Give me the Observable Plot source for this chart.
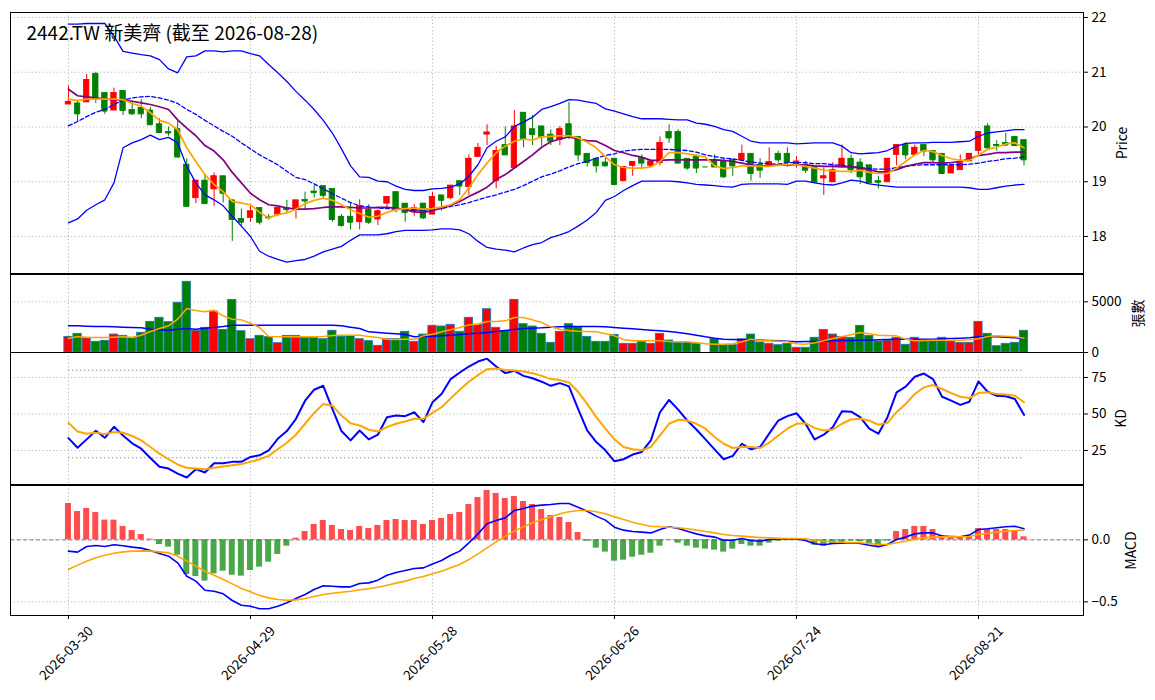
<!DOCTYPE html>
<html><head><meta charset="utf-8">
<script src="https://cdn.jsdelivr.net/npm/d3@7"></script>
<script src="https://cdn.jsdelivr.net/npm/@observablehq/plot@0.6"></script>
<style>
body{margin:0;background:#fff;}
#chart{position:relative;width:1155px;height:700px;background:#fff;}
#chart svg{position:absolute;left:0;overflow:visible;}
</style></head><body><div id="chart"></div>
<script>
const title = "2442.TW 新美齊 (截至 2026-08-28)";
const tickIndex = [0, 20, 40, 60, 80, 100];
const tickLabels = ["2026-03-30", "2026-04-29", "2026-05-28", "2026-06-26", "2026-07-24", "2026-08-21"];

const open = [20.41,20.43,20.45,20.97,20.62,20.30,20.66,20.31,20.35,20.30,20.05,19.91,19.96,19.31,18.70,19.02,18.86,19.10,18.66,18.32,18.34,18.52,18.35,18.40,18.52,18.49,18.67,18.82,18.92,18.87,18.36,18.36,18.26,18.49,18.31,18.60,18.81,18.60,18.44,18.60,18.40,18.75,18.70,19.01,18.90,19.45,19.86,19.01,19.67,19.25,20.26,19.96,20.01,19.86,19.76,20.05,19.82,19.51,19.42,19.35,19.42,19.01,19.29,19.43,19.29,19.34,19.91,19.91,19.42,19.46,19.27,19.40,19.37,19.40,19.39,19.51,19.31,19.27,19.51,19.51,19.31,19.31,19.27,19.06,18.99,19.27,19.42,19.35,19.30,19.01,18.99,19.49,19.67,19.49,19.67,19.56,19.51,19.15,19.21,19.37,19.56,20.01,19.67,19.71,19.82,19.76];
const high = [20.75,20.49,20.96,21.00,20.62,20.71,20.66,20.47,20.50,20.36,20.15,20.00,20.10,19.42,19.02,19.14,19.16,19.10,18.66,18.50,18.55,18.52,18.40,18.52,18.66,18.66,18.81,18.93,18.93,18.87,18.40,18.60,18.67,18.58,18.49,18.72,18.81,18.60,18.58,18.60,18.81,18.75,18.93,19.01,19.49,19.70,20.04,19.65,20.00,20.30,20.26,20.21,20.01,19.95,20.01,20.45,19.82,19.51,19.42,19.43,19.42,19.27,19.36,19.49,19.40,19.82,20.04,19.95,19.42,19.49,19.27,19.49,19.40,19.40,19.67,19.51,19.42,19.62,19.56,19.62,19.46,19.37,19.27,19.25,19.35,19.67,19.49,19.42,19.30,19.10,19.42,19.67,19.71,19.67,19.67,19.56,19.51,19.31,19.49,19.51,19.91,20.06,19.75,19.88,19.82,19.76];
const low = [20.41,20.10,20.44,20.43,20.23,20.30,20.21,20.21,20.15,20.03,19.89,19.83,19.45,18.55,18.60,18.60,18.55,18.61,17.91,18.19,18.26,18.21,18.30,18.37,18.43,18.32,18.49,18.70,18.70,18.26,18.17,18.12,18.12,18.22,18.20,18.52,18.43,18.26,18.37,18.31,18.40,18.46,18.67,18.75,18.75,19.45,19.66,18.87,19.49,19.25,19.62,19.66,19.65,19.66,19.66,19.77,19.37,19.27,19.16,19.27,18.95,19.01,19.10,19.22,19.28,19.29,19.70,19.34,19.21,19.15,19.27,19.27,19.06,19.10,19.39,19.01,19.06,19.27,19.34,19.27,19.25,19.15,18.98,18.75,18.99,19.27,19.15,18.95,18.98,18.87,18.99,19.29,19.40,19.49,19.46,19.34,19.15,19.15,19.21,19.37,19.49,19.57,19.56,19.65,19.65,19.29];
const close = [20.46,20.24,20.86,20.51,20.29,20.62,20.30,20.24,20.24,20.04,19.90,19.89,19.45,18.55,19.02,18.60,19.10,18.79,18.31,18.26,18.46,18.26,18.34,18.52,18.49,18.66,18.65,18.80,18.75,18.31,18.20,18.26,18.55,18.26,18.46,18.72,18.49,18.44,18.52,18.34,18.72,18.66,18.93,18.92,19.42,19.62,19.90,19.56,19.49,20.01,19.77,19.86,19.82,19.74,19.96,19.84,19.49,19.35,19.29,19.29,18.95,19.27,19.36,19.34,19.37,19.71,19.80,19.34,19.25,19.25,19.27,19.27,19.09,19.29,19.51,19.15,19.21,19.36,19.40,19.35,19.37,19.21,18.99,19.10,19.21,19.42,19.22,19.09,18.98,18.99,19.42,19.67,19.49,19.62,19.56,19.40,19.15,19.29,19.34,19.51,19.91,19.62,19.66,19.67,19.66,19.40];
const ma5 = [20.51,20.48,20.51,20.51,20.51,20.51,20.50,20.43,20.38,20.26,20.12,20.07,19.95,19.62,19.37,19.13,18.95,18.82,18.64,18.61,18.58,18.44,18.34,18.40,18.43,18.50,18.60,18.66,18.70,18.66,18.58,18.49,18.42,18.35,18.37,18.44,18.49,18.51,18.52,18.50,18.51,18.54,18.58,18.67,18.89,19.13,19.34,19.53,19.65,19.74,19.78,19.76,19.82,19.83,19.84,19.84,19.80,19.72,19.62,19.46,19.31,19.26,19.25,19.25,19.27,19.37,19.53,19.53,19.51,19.48,19.45,19.29,19.24,19.26,19.29,19.29,19.28,19.28,19.30,19.31,19.31,19.28,19.25,19.21,19.20,19.19,19.19,19.21,19.17,19.15,19.15,19.25,19.37,19.49,19.57,19.55,19.48,19.42,19.39,19.39,19.49,19.59,19.63,19.69,19.71,19.62];
const ma10 = [20.69,20.57,20.55,20.53,20.51,20.50,20.49,20.47,20.44,20.41,20.37,20.32,20.13,19.98,19.84,19.66,19.56,19.40,19.17,18.98,18.79,18.67,18.58,18.56,18.52,18.50,18.50,18.51,18.53,18.54,18.54,18.53,18.52,18.52,18.53,18.53,18.52,18.49,18.45,18.44,18.47,18.52,18.57,18.64,18.73,18.81,18.90,19.04,19.13,19.25,19.37,19.49,19.63,19.73,19.78,19.82,19.78,19.75,19.74,19.66,19.57,19.53,19.48,19.45,19.39,19.39,19.40,19.40,19.40,19.40,19.40,19.40,19.39,19.37,19.34,19.31,19.29,19.29,19.31,19.30,19.31,19.31,19.29,19.28,19.28,19.27,19.27,19.25,19.22,19.18,19.18,19.22,19.28,19.32,19.35,19.35,19.34,19.35,19.37,19.42,19.48,19.50,19.53,19.53,19.54,19.54];
const ma20 = [20.02,20.10,20.19,20.27,20.32,20.41,20.49,20.53,20.55,20.56,20.53,20.49,20.43,20.32,20.23,20.12,20.02,19.92,19.83,19.71,19.60,19.49,19.40,19.31,19.19,19.08,19.04,18.96,18.87,18.78,18.70,18.62,18.56,18.54,18.52,18.51,18.50,18.49,18.48,18.48,18.49,18.51,18.55,18.58,18.62,18.67,18.72,18.76,18.81,18.86,18.93,19.01,19.09,19.14,19.20,19.27,19.33,19.37,19.43,19.48,19.51,19.56,19.58,19.59,19.59,19.59,19.59,19.58,19.57,19.54,19.49,19.46,19.43,19.42,19.39,19.36,19.34,19.33,19.32,19.35,19.35,19.35,19.33,19.33,19.31,19.30,19.28,19.26,19.24,19.23,19.23,19.26,19.28,19.30,19.31,19.31,19.31,19.31,19.31,19.32,19.34,19.37,19.39,19.42,19.43,19.45];
const bbUpper = [21.88,21.88,21.89,21.89,21.89,21.66,21.38,21.35,21.32,21.30,21.23,21.06,20.99,21.28,21.30,21.39,21.39,21.37,21.39,21.39,21.34,21.30,21.14,20.99,20.83,20.65,20.49,20.32,20.12,19.89,19.60,19.29,19.09,19.08,19.01,19.00,18.92,18.86,18.84,18.84,18.87,18.88,18.90,18.96,19.10,19.31,19.62,19.74,19.82,20.01,20.09,20.18,20.32,20.37,20.43,20.50,20.49,20.46,20.43,20.33,20.29,20.24,20.19,20.15,20.15,20.15,20.14,20.13,20.13,20.07,20.05,20.01,19.95,19.92,19.83,19.74,19.71,19.71,19.71,19.71,19.69,19.70,19.71,19.71,19.71,19.65,19.53,19.51,19.52,19.53,19.57,19.65,19.70,19.71,19.71,19.72,19.72,19.72,19.73,19.74,19.83,19.89,19.91,19.93,19.95,19.95];
const bbLower = [18.25,18.32,18.48,18.58,18.67,18.98,19.62,19.71,19.77,19.85,19.77,19.81,19.71,19.28,18.98,18.76,18.67,18.56,18.37,18.19,18.00,17.73,17.64,17.58,17.53,17.56,17.58,17.64,17.72,17.77,17.82,17.93,18.03,18.03,18.03,18.05,18.09,18.11,18.11,18.11,18.12,18.14,18.14,18.12,18.05,17.91,17.80,17.77,17.75,17.72,17.79,17.85,17.89,17.98,18.03,18.09,18.19,18.30,18.44,18.66,18.73,18.84,18.93,19.01,19.01,19.01,19.01,19.00,18.98,18.95,18.94,18.93,18.91,18.90,18.95,18.96,18.96,18.96,18.96,18.95,19.01,19.01,18.98,18.95,18.94,18.98,19.03,19.01,18.96,18.94,18.92,18.90,18.90,18.90,18.90,18.90,18.90,18.90,18.90,18.89,18.86,18.86,18.89,18.92,18.94,18.95];

const volume = [1540,1840,1450,1050,1150,1770,1640,1450,1940,3020,3420,2990,4900,6970,2140,2430,4040,2230,5190,2100,1310,1640,1510,920,1640,1640,1450,1450,1310,2140,1540,1610,1310,1120,660,1310,1310,2040,1050,1770,2630,2560,2730,2040,3420,2730,4270,2430,2100,5190,2790,2560,1840,950,2040,2790,2470,1540,1050,1050,1740,850,850,1080,850,1840,1180,950,950,850,0,1310,720,720,1310,1770,990,850,720,850,460,460,1450,2230,1770,1540,1450,2630,1640,1080,1150,1450,760,1450,1180,1180,1450,1080,950,950,3020,1840,620,850,950,2140];
const volMa5 = [1380,1577,1478,1478,1478,1511,1544,1478,1708,2070,2366,2629,3286,4338,4141,4009,4174,3615,3286,3220,2892,2465,1577,1544,1544,1544,1544,1544,1577,1676,1708,1708,1708,1577,1478,1314,1281,1314,1314,1643,1807,2037,2234,2465,2727,2793,3056,3056,3122,3451,3451,3220,2957,2530,2300,2169,2103,2070,2037,1840,1643,1281,1150,1150,1150,1150,1084,1051,1051,952,854,821,821,854,1051,1314,1150,1150,1117,1051,854,821,952,1150,1380,1544,1741,1971,1840,1708,1676,1643,1314,1150,1183,1215,1215,1215,1215,1248,1347,1577,1643,1610,1544,1413];
const volMa20 = [2629,2629,2596,2563,2563,2530,2497,2465,2432,2300,2234,2201,2300,2366,2300,2399,2465,2563,2695,2695,2695,2695,2695,2695,2695,2695,2695,2695,2695,2695,2629,2497,2366,2037,1971,1906,1840,1774,1544,1577,1610,1643,1708,1774,1840,1906,1971,2070,2169,2267,2366,2399,2432,2497,2530,2563,2563,2563,2563,2530,2465,2399,2333,2267,2201,2136,2070,1971,1840,1708,1544,1413,1314,1281,1248,1248,1215,1183,1150,1117,1051,1084,1084,1117,1150,1183,1183,1215,1215,1248,1281,1314,1314,1314,1314,1314,1347,1380,1413,1446,1544,1577,1544,1511,1446,1380];

const kLine = [33.5,26.9,32.6,38.5,33.7,41.2,35.3,29.9,26.2,19.9,13.8,12.6,9.2,6.5,12.2,9.9,16.3,16.3,17.2,17.2,20.6,21.7,25.1,33.0,38.3,46.7,59.1,66.6,69.3,53.5,38.3,31.9,38.7,32.6,35.8,47.8,48.9,48.5,51.2,44.4,58.0,63.7,73.9,78.4,82.5,85.9,87.9,82.5,78.0,79.5,76.1,74.5,72.1,69.3,71.1,68.9,53.5,38.7,30.8,25.1,17.6,19.0,22.2,24.0,31.9,51.2,59.6,53.0,45.5,39.4,32.6,25.8,19.0,21.3,29.6,25.8,27.4,36.5,45.5,48.5,50.5,43.3,32.6,35.8,41.0,51.9,51.6,47.8,39.9,36.5,47.8,64.8,68.7,75.5,77.7,73.9,61.8,59.1,56.2,58.4,72.3,65.2,62.5,62.1,60.3,49.4];
const dLine = [43.9,38.0,36.5,37.1,36.2,37.6,37.1,34.9,31.9,27.4,22.8,19.0,15.4,13.1,12.6,12.2,13.1,14.0,14.9,15.8,17.2,19.0,21.3,25.8,30.3,35.8,43.3,50.7,56.9,55.7,48.9,43.7,42.1,39.2,38.0,41.0,43.3,44.8,46.7,46.7,50.7,54.6,60.7,66.6,72.1,76.6,80.7,81.1,80.2,79.8,79.1,77.9,76.1,73.9,73.2,71.6,65.2,56.9,47.8,39.9,32.6,27.4,25.8,25.1,27.4,35.3,43.3,46.0,45.5,43.3,39.9,34.2,29.6,26.7,27.4,27.4,26.7,30.3,35.3,39.9,43.3,43.7,40.3,38.7,39.4,43.3,46.2,46.7,45.5,42.6,43.9,51.2,56.9,63.7,68.2,69.8,67.1,64.3,61.8,60.9,64.3,64.8,63.7,63.4,62.5,58.0];
const kdRefs = [80, 20];

const macdLine = [-0.091,-0.099,-0.054,-0.046,-0.054,-0.040,-0.048,-0.059,-0.067,-0.086,-0.110,-0.132,-0.185,-0.293,-0.333,-0.406,-0.414,-0.435,-0.489,-0.527,-0.535,-0.556,-0.556,-0.535,-0.508,-0.473,-0.441,-0.401,-0.371,-0.374,-0.379,-0.379,-0.352,-0.347,-0.325,-0.285,-0.263,-0.247,-0.231,-0.226,-0.194,-0.167,-0.124,-0.091,-0.024,0.048,0.129,0.156,0.177,0.237,0.253,0.272,0.280,0.285,0.293,0.293,0.263,0.231,0.191,0.159,0.102,0.078,0.067,0.062,0.056,0.083,0.105,0.091,0.070,0.048,0.032,0.022,-0.003,-0.003,0.011,-0.005,-0.011,0.003,0.008,0.008,0.008,-0.005,-0.032,-0.040,-0.030,-0.027,-0.024,-0.030,-0.043,-0.056,-0.038,0.003,0.022,0.048,0.056,0.056,0.030,0.027,0.024,0.038,0.083,0.089,0.097,0.105,0.110,0.089];
const signalLine = [-0.239,-0.204,-0.172,-0.145,-0.124,-0.108,-0.097,-0.091,-0.089,-0.091,-0.097,-0.105,-0.132,-0.172,-0.212,-0.253,-0.285,-0.320,-0.355,-0.392,-0.419,-0.449,-0.468,-0.481,-0.487,-0.484,-0.473,-0.457,-0.441,-0.430,-0.422,-0.414,-0.403,-0.395,-0.382,-0.366,-0.349,-0.333,-0.312,-0.296,-0.274,-0.253,-0.226,-0.199,-0.159,-0.113,-0.065,-0.016,0.030,0.070,0.105,0.137,0.164,0.185,0.210,0.226,0.237,0.237,0.226,0.210,0.185,0.164,0.142,0.124,0.110,0.105,0.102,0.097,0.089,0.078,0.067,0.056,0.043,0.035,0.030,0.024,0.019,0.016,0.013,0.011,0.011,0.008,-0.003,-0.011,-0.016,-0.019,-0.022,-0.024,-0.030,-0.038,-0.038,-0.024,-0.011,0.005,0.016,0.022,0.024,0.024,0.024,0.027,0.043,0.051,0.062,0.070,0.075,0.078];
const histBars = [0.293,0.228,0.253,0.220,0.159,0.159,0.108,0.075,0.043,0.006,-0.038,-0.059,-0.124,-0.280,-0.296,-0.333,-0.274,-0.253,-0.285,-0.293,-0.247,-0.220,-0.180,-0.118,-0.051,0.013,0.067,0.124,0.156,0.116,0.083,0.075,0.108,0.091,0.116,0.156,0.164,0.156,0.156,0.124,0.156,0.172,0.204,0.220,0.285,0.341,0.398,0.374,0.333,0.349,0.309,0.285,0.245,0.196,0.180,0.140,0.059,-0.011,-0.067,-0.099,-0.172,-0.164,-0.140,-0.124,-0.108,-0.051,0.003,-0.027,-0.051,-0.067,-0.075,-0.083,-0.099,-0.075,-0.038,-0.051,-0.051,-0.027,-0.011,-0.004,0.003,-0.005,-0.043,-0.051,-0.038,-0.022,-0.010,-0.016,-0.038,-0.051,-0.010,0.067,0.083,0.108,0.108,0.083,0.035,0.024,0.024,0.024,0.091,0.083,0.083,0.083,0.075,0.024];

const UP = "#ff0000", DOWN = "#008000";
const n = close.length;
const rows = d3.range(n).map(i => ({
  i, open: open[i], high: high[i], low: low[i], close: close[i],
  color: close[i] > open[i] ? UP : DOWN,
  vol: volume[i], volMa5: volMa5[i], volMa20: volMa20[i],
  ma5: ma5[i], ma10: ma10[i], ma20: ma20[i], bbUpper: bbUpper[i], bbLower: bbLower[i],
  k: kLine[i], d: dLine[i], macd: macdLine[i], signal: signalLine[i], hist: histBars[i]
}));

const W = 1155, ML = 10, MR = 72;
const xDomain = [-6.37, 111.54];
const FONT = '"Noto Sans CJK TC", "Noto Sans CJK SC", "Noto Sans", "DejaVu Sans", sans-serif';
const gridStyle = {stroke: "#b0b0b0", strokeOpacity: 1, strokeWidth: 0.9, strokeDasharray: "1.2,2.4"};

function panel({top, height, mt, mb, yDomain, yTicks, yFmt, label, labelDx, marks}) {
  const svg = Plot.plot({
    width: W, height, marginLeft: ML, marginRight: MR, marginTop: mt, marginBottom: mb,
    x: {domain: xDomain, axis: null},
    y: {domain: yDomain, axis: null},
    color: {type: "identity"},
    style: {fontFamily: FONT, fontSize: "13.5px", background: "transparent", overflow: "visible", color: "black"},
    marks: [
      Plot.gridX(tickIndex, gridStyle),
      Plot.gridY(yTicks, gridStyle),
      ...marks,
      Plot.axisY(yTicks, {anchor: "right", tickSize: 4, tickPadding: 4, tickFormat: yFmt, label: null, fontSize: 13.5}),
      Plot.text([label], {frameAnchor: "right", dx: labelDx, rotate: -90, text: d => d, textAnchor: "middle", lineAnchor: "middle", fontSize: 14, fill: "black"}),
      Plot.frame({stroke: "black", strokeWidth: 1})
    ]
  });
  svg.style.top = top + "px";
  document.getElementById("chart").appendChild(svg);
}

const bodyHalf = 0.3;
panel({
  top: 0, height: 274, mt: 12, mb: 1,
  yDomain: [17.324, 22.091], yTicks: [18, 19, 20, 21, 22], yFmt: d3.format("d"),
  label: "Price", labelDx: 39,
  marks: [
    Plot.ruleX(rows, {x: "i", y1: "low", y2: "high", stroke: "color", strokeWidth: 1}),
    Plot.rect(rows, {x1: d => d.i - bodyHalf, x2: d => d.i + bodyHalf, y1: "open", y2: "close", fill: "color", stroke: "color", strokeWidth: 0.8}),
    Plot.ruleY(rows, {y: "close", x1: d => d.i - bodyHalf, x2: d => d.i + bodyHalf, stroke: "color", strokeWidth: 1}),
    Plot.line(rows, {x: "i", y: "bbUpper", stroke: "#0000ff", strokeWidth: 1.3}),
    Plot.line(rows, {x: "i", y: "bbLower", stroke: "#0000ff", strokeWidth: 1.3}),
    Plot.line(rows, {x: "i", y: "ma20", stroke: "#0000ff", strokeWidth: 1.3, strokeDasharray: "4,2.4"}),
    Plot.line(rows, {x: "i", y: "ma10", stroke: "#800080", strokeWidth: 1.7}),
    Plot.line(rows, {x: "i", y: "ma5", stroke: "#ffa500", strokeWidth: 1.7}),
    Plot.text([title], {frameAnchor: "top-left", dx: 16, dy: 14, text: d => d, textAnchor: "start", lineAnchor: "top", fontSize: 19, fill: "black"})
  ]
});

panel({
  top: 273, height: 79, mt: 1, mb: 0,
  yDomain: [0, 7692], yTicks: [0, 5000], yFmt: d3.format("d"),
  label: "張數", labelDx: 55,
  marks: [
    Plot.rectY(rows, {x1: d => d.i - 0.45, x2: d => d.i + 0.45, y: "vol", fill: "color", stroke: "#1f77b4", strokeWidth: 0.9}),
    Plot.line(rows, {x: "i", y: "volMa20", stroke: "#0000ff", strokeWidth: 1.5}),
    Plot.line(rows, {x: "i", y: "volMa5", stroke: "#ffa500", strokeWidth: 1.5})
  ]
});

panel({
  top: 351, height: 133, mt: 1, mb: 0,
  yDomain: [1.7, 92.1], yTicks: [25, 50, 75], yFmt: d3.format("d"),
  label: "KD", labelDx: 38,
  marks: [
    Plot.ruleY(kdRefs, {x1: () => 0, x2: () => n - 1, stroke: "#999999", strokeWidth: 1, strokeDasharray: "1.5,2.5"}),
    Plot.line(rows, {x: "i", y: "k", stroke: "#0000ff", strokeWidth: 2}),
    Plot.line(rows, {x: "i", y: "d", stroke: "#ffa500", strokeWidth: 2})
  ]
});

const fmtMacd = d3.format(".1f");
panel({
  top: 484, height: 216, mt: 1, mb: 85,
  yDomain: [-0.610, 0.438], yTicks: [-0.5, 0], yFmt: d => fmtMacd(d),
  label: "MACD", labelDx: 48,
  marks: [
    Plot.ruleY([0], {stroke: "#808080", strokeWidth: 1, strokeDasharray: "4,2.5"}),
    Plot.rectY(rows, {x1: d => d.i - 0.33, x2: d => d.i + 0.33, y: "hist", fill: d => d.hist >= 0 ? UP : DOWN, fillOpacity: 0.7}),
    Plot.line(rows, {x: "i", y: "macd", stroke: "#0000ff", strokeWidth: 1.6}),
    Plot.line(rows, {x: "i", y: "signal", stroke: "#ffa500", strokeWidth: 1.6}),
    Plot.axisX(tickIndex, {anchor: "bottom", tickSize: 4, tickFormat: () => "", label: null}),
    Plot.text(tickIndex, {x: d => d, text: (d, j) => tickLabels[j], frameAnchor: "bottom", dx: -2, dy: 38, rotate: -45, textAnchor: "middle", lineAnchor: "middle", fontSize: 13.5, fill: "black"})
  ]
});
</script></body></html>
